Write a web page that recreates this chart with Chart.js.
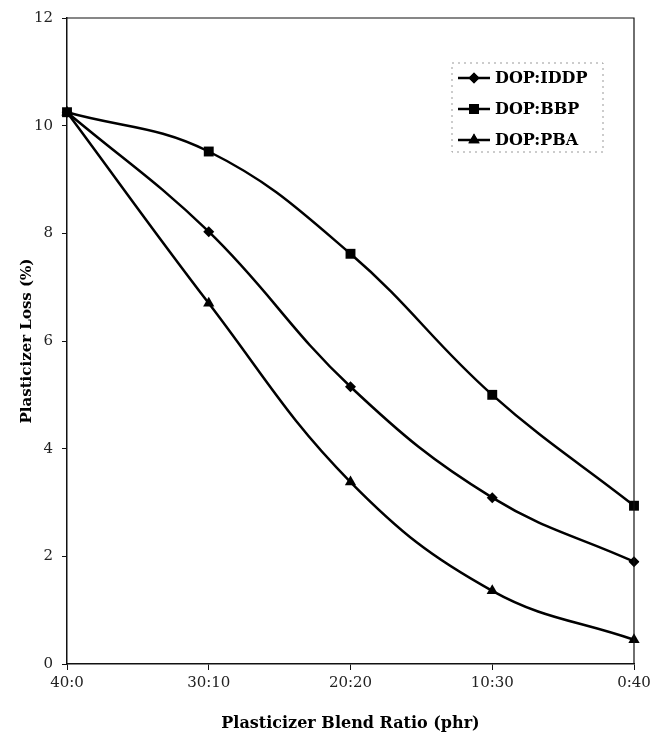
<!DOCTYPE html>
<html>
<head>
<meta charset="utf-8">
<script src="https://cdn.jsdelivr.net/npm/chart.js@4/dist/chart.umd.min.js"></script>
<style>
  html, body { margin: 0; padding: 0; background: #fff; }
  #wrap { width: 660px; height: 735px; position: relative; }
</style>
</head>
<body>
<div id="wrap"><canvas id="loss-chart"></canvas></div>
<script>
// data
const ratios = ['40:0', '30:10', '20:20', '10:30', '0:40'];
const iddpLoss = [10.25, 8.03, 5.15, 3.09, 1.90];
const bbpLoss = [10.25, 9.52, 7.62, 5.0, 2.94];
const pbaLoss = [10.25, 6.7, 3.38, 1.36, 0.45];
const yTicks = [0, 2, 4, 6, 8, 10, 12];

const serif = "'DejaVu Serif', 'Liberation Serif', serif";

// frame round the plot + legend box inside it
const framePlugin = {
  id: 'frame',
  afterDraw(chart) {
    const ctx = chart.ctx;
    const a = chart.chartArea;
    ctx.save();
    ctx.strokeStyle = '#111';
    ctx.lineWidth = 1.2;
    ctx.beginPath();
    ctx.moveTo(a.left, a.top);
    ctx.lineTo(a.right, a.top);
    ctx.lineTo(a.right, a.bottom);
    ctx.stroke();

    // legend
    const bx = a.left + 385, by = a.top + 45, bw = 151, bh = 89;
    ctx.setLineDash([2, 4]);
    ctx.strokeStyle = '#999';
    ctx.lineWidth = 1;
    ctx.strokeRect(bx, by, bw, bh);
    ctx.setLineDash([]);
    chart.data.datasets.forEach((ds, i) => {
      const y = by + 15 + i * 31;
      ctx.strokeStyle = '#000';
      ctx.lineWidth = 2.5;
      ctx.beginPath();
      ctx.moveTo(bx + 6, y);
      ctx.lineTo(bx + 38, y);
      ctx.stroke();
      ctx.fillStyle = '#000';
      Chart.helpers.drawPoint(ctx, {
        pointStyle: ds.pointStyle, radius: ds.pointRadius, rotation: 0, borderWidth: 0
      }, bx + 22, y);
      ctx.fill();
      ctx.font = 'bold 16px ' + serif;
      ctx.textBaseline = 'middle';
      ctx.textAlign = 'left';
      ctx.fillText(ds.label, bx + 43, y + 1);
    });
    ctx.restore();
  }
};

function series(label, data, style, r) {
  return {
    label: label,
    data: data,
    borderColor: '#000',
    backgroundColor: '#000',
    borderWidth: 2.5,
    pointStyle: style,
    pointRadius: r,
    pointHoverRadius: r,
    pointBorderWidth: 0,
    tension: 0.4,
    cubicInterpolationMode: 'default'
  };
}

const ctxLoss = document.getElementById('loss-chart');

new Chart(ctxLoss, {
  type: 'line',
  data: {
    labels: ratios,
    datasets: [
      series('DOP:IDDP', iddpLoss, 'rectRot', 5.5),
      series('DOP:BBP', bbpLoss, 'rect', 7),
      series('DOP:PBA', pbaLoss, 'triangle', 6.5)
    ]
  },
  options: {
    responsive: true,
    maintainAspectRatio: false,
    animation: false,
    layout: { padding: { top: 18, right: 26, left: 18, bottom: 2 } },
    plugins: {
      legend: { display: false },
      tooltip: { enabled: false }
    },
    scales: {
      x: {
        offset: false,
        border: { color: '#111', width: 1.5 },
        grid: { drawOnChartArea: false, drawTicks: true, tickLength: 6, color: '#111' },
        ticks: { color: '#222', font: { family: serif, size: 15 }, padding: 4, maxRotation: 0 },
        title: {
          display: true,
          text: 'Plasticizer Blend Ratio (phr)',
          color: '#000',
          font: { family: serif, size: 16, weight: 'bold' },
          padding: { top: 16, bottom: 0 }
        },
        afterFit(scale) { scale.height = 69; }
      },
      y: {
        min: 0,
        max: 12,
        afterBuildTicks(scale) { scale.ticks = yTicks.map(v => ({ value: v })); },
        border: { color: '#111', width: 1.5 },
        grid: { drawOnChartArea: false, drawTicks: true, tickLength: 5, color: '#111' },
        ticks: { color: '#222', font: { family: serif, size: 15 }, padding: 9 },
        title: {
          display: true,
          text: 'Plasticizer Loss (%)',
          color: '#000',
          font: { family: serif, size: 15, weight: 'bold' },
          padding: { top: 0, bottom: 8 }
        },
        afterFit(scale) { scale.width = 49; }
      }
    }
  },
  plugins: [framePlugin]
});
</script>
</body>
</html>
